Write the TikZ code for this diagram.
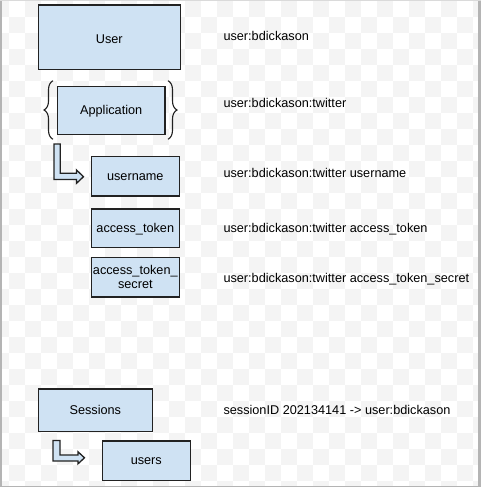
\documentclass[tikz,border=0pt]{standalone}
\usepackage{fontspec}
\setmainfont{Liberation Sans}
\usetikzlibrary{decorations.pathreplacing}
\definecolor{boxfill}{HTML}{CFE2F3}
\definecolor{boxline}{HTML}{222222}
\definecolor{chk}{HTML}{F4F4F4}
\definecolor{frame}{HTML}{B4B4B4}
\begin{document}
\begin{tikzpicture}[x=1pt,y=-1pt,
  every node/.style={font=\fontsize{12.7}{14.3}\selectfont, inner sep=0pt},
  boxbase/.style={draw=boxline, fill=boxfill, line width=1.3pt, rectangle},
  box/.style={boxbase, text height=8pt, text depth=0pt},
  blockarrow/.style={draw=boxline, fill=boxfill, line width=1.3pt, line join=miter},
  curly/.style={draw=boxline, line width=1.1pt, decorate,
    decoration={brace, amplitude=9pt, aspect=0.5}},
  keytext/.style={anchor=base west, text=black}]
% background and frame
\useasboundingbox (0,0) rectangle (481,487);
\fill[white] (0,0) rectangle (481,487);
\foreach \i in {-1,...,29}{
  \foreach \j in {-1,...,30}{
    \pgfmathtruncatemacro{\parity}{mod(\i+\j+100,2)}
    \ifnum\parity=1
      \fill[chk] (9+16*\i,1+16*\j) rectangle (25+16*\i,17+16*\j);
    \fi
  }
}
\fill[frame] (0,0) rectangle (2,487);
\fill[frame] (478,0) rectangle (481,487);
\fill[frame] (0,485.5) rectangle (481,487);
\fill[frame!50] (0,0) rectangle (481,1);

% boxes
\node[box, minimum width=142pt, minimum height=64.7pt, text height=13.4pt] (user) at (109.3,37.3) {User};
\node[box, minimum width=107.7pt, minimum height=48pt] (app) at (111.2,110.3) {Application};
\node[box, minimum width=88pt, minimum height=39.7pt] (uname) at (135.3,176.2) {username};
\node[box, minimum width=88pt, minimum height=38.7pt] (atok) at (135.3,228.3) {access\_token};
\node[boxbase, minimum width=88pt, minimum height=39.4pt, align=center] (asec) at (135.3,277.3) {access\_token\_\\secret};
\node[box, minimum width=114pt, minimum height=42.4pt] (sess) at (95.3,410.2) {Sessions};
\node[box, minimum width=88pt, minimum height=39.4pt] (users) at (146.3,460.7) {users};

% braces around Application
\coordinate (lbB) at (53,139.3);
\coordinate (lbT) at (53,80.7);
\coordinate (rbT) at (168,80.7);
\coordinate (rbB) at (168,139.3);
\draw[curly] (lbB) -- (lbT);
\draw[curly] (rbT) -- (rbB);

% bent block arrows
\draw[blockarrow] (54,144) -- (60.3,144) -- (60.3,173.3) -- (76.5,173.3) -- (76.5,170)
  -- (83.5,176.7) -- (76.5,183.3) -- (76.5,179.4) -- (54,179.4) -- cycle;
\draw[blockarrow] (53,440.5) -- (60,440.5) -- (60,455) -- (78,455) -- (78,451.8)
  -- (84.5,457.8) -- (78,463.8) -- (78,461) -- (53,461) -- cycle;

% key texts
\node[keytext] (k1) at (223.3,40.7) {user:bdickason};
\node[keytext] (k2) at (223.3,107.7) {user:bdickason:twitter};
\node[keytext] (k3) at (223.3,177.3) {user:bdickason:twitter username};
\node[keytext] (k4) at (223.3,232.3) {user:bdickason:twitter access\_token};
\node[keytext] (k5) at (223.3,282.3) {user:bdickason:twitter access\_token\_secret};
\node[keytext] (k6) at (223.3,414.3) {sessionID 202134141 -> user:bdickason};
\end{tikzpicture}
\end{document}
